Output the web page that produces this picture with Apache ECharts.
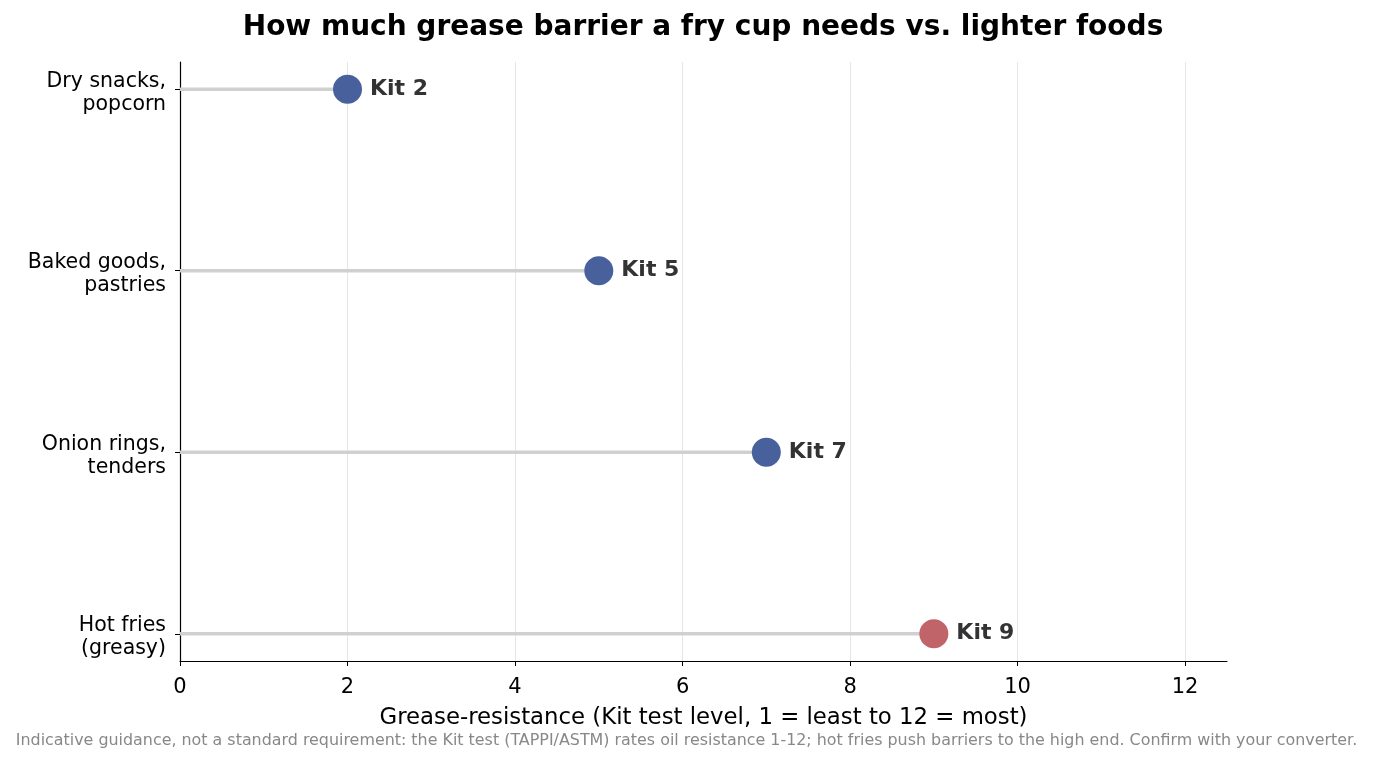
<!DOCTYPE html>
<html><head><meta charset="utf-8">
<script src="https://cdn.jsdelivr.net/npm/echarts@6/dist/echarts.min.js"></script>
<style>html,body{margin:0;padding:0;background:#fff}#c{width:1373px;height:762px}</style>
</head><body><div id="c"></div>
<script>
const categories = ["Dry snacks,\npopcorn", "Baked goods,\npastries", "Onion rings,\ntenders", "Hot fries\n(greasy)"];
const kitLevels = [2, 5, 7, 9];
const highlight = [false, false, false, true];
const xTicks = [0, 2, 4, 6, 8, 10, 12];

const FONT = "DejaVu Sans";
const BLUE = "#48609b";
const RED = "#c0646a";

const chart = echarts.init(document.getElementById('c'), null, {renderer: 'canvas'});
const idx = categories.map((_, i) => i);
const points = kitLevels.map((v, i) => ({value: [v, i], itemStyle: {color: highlight[i] ? RED : BLUE, opacity: 1}}));

chart.setOption({
  animation: false,
  textStyle: {fontFamily: FONT},
  graphic: [{
    type: 'text', x: 703, y: 28,
    style: {text: "How much grease barrier a fry cup needs vs. lighter foods",
      font: "bold 28px 'DejaVu Sans'", fill: '#000', align: 'center', verticalAlign: 'middle'}
  }, {
    type: 'text', left: 'center', top: 733,
    style: {text: "Indicative guidance, not a standard requirement: the Kit test (TAPPI/ASTM) rates oil resistance 1-12; hot fries push barriers to the high end. Confirm with your converter.",
      font: "15.9px 'DejaVu Sans'", fill: '#888'}
  }],
  grid: {left: 180, right: 146, top: 62, bottom: 101, containLabel: false},
  xAxis: {
    type: 'value', min: 0, max: 12.5, interval: 2,
    axisLine: {show: true, onZero: false, lineStyle: {color: '#000', width: 1.2}},
    axisTick: {show: true, length: 5, customValues: xTicks, lineStyle: {color: '#000'}},
    axisLabel: {fontSize: 21, color: '#000', margin: 16, fontFamily: FONT,
      customValues: xTicks},
    splitLine: {show: true, lineStyle: {color: '#e6e6e6', width: 1}},
    name: "Grease-resistance (Kit test level, 1 = least to 12 = most)",
    nameLocation: 'middle', nameGap: 46,
    nameTextStyle: {fontSize: 22.8, color: '#000', fontFamily: FONT}
  },
  yAxis: {
    type: 'value', inverse: true, min: -0.15, max: 3.15,
    axisLine: {show: true, onZero: false, lineStyle: {color: '#000', width: 1.2}},
    axisTick: {show: true, length: 5, customValues: idx, lineStyle: {color: '#000'}},
    axisLabel: {show: true, customValues: idx, fontSize: 20.5, color: '#000', margin: 14,
      fontFamily: FONT, align: 'right', lineHeight: 23,
      formatter: v => {
        const parts = categories[Math.round(v)].split('\n');
        return '{s| }\n{a|' + parts[0] + '}\n{a|' + parts[1] + '}';
      },
      rich: {
        s: {fontSize: 2, lineHeight: 7},
        a: {fontSize: 20.5, fontFamily: FONT, color: '#000', lineHeight: 23, align: 'right'}
      }},
    splitLine: {show: false}
  },
  series: [
    {
      type: 'custom',
      data: kitLevels.map((v, i) => [v, i]),
      renderItem: function (params, api) {
        const p0 = api.coord([0, api.value(1)]);
        const p1 = api.coord([api.value(0), api.value(1)]);
        return {type: 'line', shape: {x1: p0[0], y1: p0[1], x2: p1[0], y2: p1[1]},
          style: {stroke: '#d0d0d0', lineWidth: 3.5}};
      },
      z: 2
    },
    {
      type: 'scatter',
      data: points,
      symbolSize: 29,
      z: 3,
      emphasis: {disabled: true},
      label: {show: true, position: 'right', distance: 8,
        formatter: p => 'Kit ' + p.value[0],
        fontFamily: FONT, fontSize: 22, fontWeight: 'bold', color: '#333'}
    }
  ]
});
</script></body></html>
